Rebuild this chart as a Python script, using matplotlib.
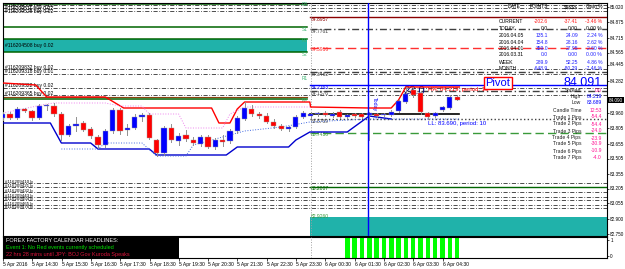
import numpy as np
import matplotlib.pyplot as plt
from matplotlib.patches import Rectangle

plt.rcParams['font.family'] = ['Liberation Sans', 'DejaVu Sans']

# ---------------- data (M15 bars, 5-6 Apr 2016) ----------------
opens = [83.91, 83.95, 83.91, 84.00, 83.98, 83.91, 84.03, 84.03, 83.95, 83.74,
         83.83, 83.86, 83.80, 83.72, 83.64, 83.78, 83.99, 83.79, 83.81, 83.92,
         83.94, 83.69, 83.56, 83.81, 83.68, 83.74, 83.69, 83.65, 83.72, 83.62,
         83.69, 83.68, 83.78, 83.90, 84.00, 83.95, 83.93, 83.87, 83.83, 83.80,
         83.82, 83.92, 83.93, 83.95, 83.96, 83.93, 83.97, 83.92, 83.95, 83.95,
         83.94, 83.95, 83.94, 83.94, 83.98, 84.07, 84.19, 84.16, 83.96, 83.93,
         83.99, 84.01, 84.12]
highs = [83.97, 83.97, 84.02, 84.01, 83.99, 84.05, 84.05, 84.06, 83.97, 83.85,
         83.92, 83.88, 83.82, 83.74, 83.80, 84.01, 84.01, 83.85, 83.95, 83.96,
         83.96, 83.70, 83.83, 83.85, 83.76, 83.79, 83.72, 83.74, 83.74, 83.71,
         83.74, 83.80, 83.93, 84.07, 84.04, 83.97, 83.96, 83.90, 83.85, 83.83,
         83.94, 83.98, 83.97, 83.97, 83.98, 83.97, 83.99, 83.95, 83.96, 83.96,
         83.97, 83.96, 83.96, 83.99, 84.10, 84.22, 84.22, 84.18, 83.97, 83.97,
         84.03, 84.14, 84.13]
lows = [83.89, 83.90, 83.90, 83.97, 83.89, 83.90, 83.99, 83.93, 83.69, 83.73,
        83.78, 83.78, 83.71, 83.61, 83.62, 83.76, 83.75, 83.74, 83.80, 83.88,
        83.70, 83.53, 83.54, 83.67, 83.64, 83.68, 83.64, 83.63, 83.61, 83.60,
        83.63, 83.66, 83.76, 83.89, 83.93, 83.91, 83.86, 83.81, 83.79, 83.78,
        83.81, 83.91, 83.91, 83.93, 83.93, 83.92, 83.91, 83.91, 83.92, 83.91,
        83.69, 83.92, 83.93, 83.93, 83.97, 84.06, 84.12, 83.95, 83.90, 83.92,
        83.98, 84.00, 84.09]
closes = [83.95, 83.91, 84.00, 83.98, 83.91, 84.03, 84.04, 83.95, 83.74, 83.83,
          83.85, 83.79, 83.73, 83.64, 83.78, 83.99, 83.78, 83.81, 83.92, 83.94,
          83.71, 83.56, 83.81, 83.69, 83.73, 83.70, 83.66, 83.72, 83.62, 83.69,
          83.67, 83.78, 83.91, 84.01, 83.95, 83.93, 83.87, 83.83, 83.80, 83.82,
          83.92, 83.96, 83.95, 83.96, 83.94, 83.95, 83.92, 83.94, 83.93, 83.92,
          83.96, 83.93, 83.95, 83.97, 84.08, 84.15, 84.14, 83.97, 83.92, 83.96,
          84.02, 84.12, 84.09]

# upper / lower price channel (step lines) and dotted envelopes, (bar, price)
upper_x = [0, 4.5, 6, 14, 16.5, 28.5, 29.5, 31, 32, 33, 41.9, 42, 50, 53, 54, 55, 62.3]
upper_y = [84.26, 84.24, 84.12, 84.12, 84.01, 84.01, 83.86, 83.86, 84.00, 84.07, 84.07,
           84.02, 84.01, 84.01, 84.09, 84.22, 84.22]
lower_x = [0, 6.5, 8, 12, 13, 20, 21, 30.5, 32, 39, 40, 41.9, 47, 50, 53]
lower_y = [83.86, 83.86, 83.66, 83.66, 83.60, 83.60, 83.54, 83.54, 83.62, 83.62, 83.69,
           83.77, 83.77, 83.93, 83.90]
pink_x = [0, 6, 7, 14, 16, 19, 20, 24, 25, 30, 31, 33, 41.9]
pink_y = [83.96, 84.05, 84.06, 84.06, 84.03, 84.03, 83.95, 83.95, 83.81, 83.81, 83.95,
          84.02, 84.02]
blued_x = [8, 13, 14, 19, 21, 25, 26, 33, 38, 41.9, 47, 50, 62.3]
blued_y = [83.60, 83.60, 83.66, 83.66, 83.53, 83.53, 83.64, 83.78, 83.82, 83.87, 83.89,
           83.90, 83.90]

# order / level lines
left_levels = [85.05, 84.82, 84.57, 84.70, 84.10]
left_dash = [85.04, 85.01, 84.98, 84.40, 84.35, 84.21, 84.14]
order_labels = ['#116209832 buy 0.02', '#116209318 buy 0.01',
                '#116209322 buy 0.02', '#116209365 buy 0.02']
top_labels = ['#116209504 buy 0.02', '#116209511 buy 0.02', '#116209528 buy 0.02']
bottom_levels = [83.26, 83.22, 83.17, 83.12, 83.09, 83.04, 83.01]
bottom_labels = ['#116209410 b', '#116209421 b', '#116209432 b', '#116209443 b',
                 '#116209454 b', '#116209465 b', '#116209476 b']
pivot_names = ['R3', 'S1', 'R2', 'S2', 'R1', 'PP']
pivot_levels = [85.04, 84.79, 84.68, 84.55, 84.30, 84.09]
right_levels = [84.8957, 84.7761, 84.5916, 84.3462, 84.2163, 84.1576,
                83.8769, 83.7436, 83.2007, 82.9260]
right_colors = ['#8b0000', '#404040', '#ff3030', '#404040', '#0000ff', '#404040',
                '#404040', '#3a9a3a', '#006400', '#3a9a3a']

signal = [0] * 47 + [1] * 16

price_ticks = [85.020, 84.875, 84.715, 84.565, 84.445, 84.282, 83.960, 83.805,
               83.655, 83.505, 83.355, 83.205, 83.055, 82.900, 82.750]
time_labels = ['5 Apr 2016', '5 Apr 14:30', '5 Apr 15:30', '5 Apr 16:30', '5 Apr 17:30',
               '5 Apr 18:30', '5 Apr 19:30', '5 Apr 20:30', '5 Apr 21:30', '5 Apr 22:30',
               '5 Apr 23:30', '6 Apr 00:30', '6 Apr 01:30', '6 Apr 02:30', '6 Apr 03:30',
               '6 Apr 04:30']

table_rows = ['CURRENT', 'TODAY', '2016.04.05', '2016.04.04', '2016.04.01',
              '2016.03.31', 'WEEK', 'MONTH']
table_points = ['-202.6', '0.0', '135.1', '154.8', '359.0', '0.0', '289.9', '-648.9']
table_money = ['-37.41', '0.00', '24.09', '28.16', '27.95', '0.00', '52.25', '-80.29']
table_gain = ['-3.46 %', '0.00 %', '2.24 %', '2.62 %', '2.60 %', '0.00 %', '4.86 %', '-7.46 %']

info_names = ['Spread', 'High', 'Low', 'Candle Time', 'Trade 1 Pips', 'Trade 2 Pips',
              'Trade 3 Pips', 'Trade 4 Pips', 'Trade 5 Pips', 'Trade 6 Pips', 'Trade 7 Pips']
info_values = ['0.0', '84.219', '83.689', '12:53', '-54.4', '-54.4', '-24.0', '-23.9',
               '-30.9', '-10.9', '-4.0']

# ---------------- figure ----------------
W, H = 625, 269
fig = plt.figure(figsize=(W / 100, H / 100), dpi=100, facecolor='white')
ax = fig.add_axes([3 / W, (H - 236) / H, 604 / W, 233 / H])
sub = fig.add_axes([3 / W, (H - 258) / H, 604 / W, 21 / H])

XR = 82.44
ax.set_xlim(0.04, XR)
ax.set_ylim(82.73, 85.06)
sub.set_xlim(0.04, XR)
sub.set_ylim(0, 1)
SPLIT = 41.9

def px(x):
    return (x - 2.7) / 7.33

def py(y):
    return 82.75 + (234 - y) / 100

small = dict(fontsize=3.6)
dashdot = (0, (5, 2, 1, 2))

# teal band + frame lines, left part
ax.add_patch(Rectangle((0, left_levels[2]), SPLIT - 0.4, left_levels[3] - left_levels[2],
                       facecolor='#20b2aa', edgecolor='none', zorder=1))
for lv in left_levels:
    ax.plot([0, SPLIT - 0.4], [lv, lv], color='#006400', lw=1.1, zorder=2)
ax.plot([0, SPLIT - 0.4], [84.12, 84.12], color='#8b4513', lw=0.8, zorder=2)
ax.text(px(5), 84.635, '#116204508 buy 0.02', va='center', color='black', **small)
for lv in left_dash:
    ax.plot([0, XR], [lv, lv], color='#303030', lw=0.6, ls=dashdot, zorder=2)
for lv, lab in zip(left_dash[3:], order_labels):
    ax.text(px(5), lv + 0.02, lab, va='center', color='black', **small)
for lv, lab in zip(left_dash[:3], top_labels):
    ax.text(px(5), lv - 0.005, lab, va='center', color='black', **small)
for lv, lab in zip(bottom_levels, bottom_labels):
    ax.plot([0, XR], [lv, lv], color='#303030', lw=0.6, ls=dashdot, zorder=2)
    ax.text(px(5), lv + 0.012, lab, va='center', color='black', fontsize=3.2)
for nm, lv in zip(pivot_names, pivot_levels):
    ax.text(SPLIT - 0.3, lv, nm, ha='right', va='center', color='#3cb371', fontsize=3.4)

# right side levels
ax.add_patch(Rectangle((SPLIT, py(236)), XR - SPLIT, py(217) - py(236),
                       facecolor='#20b2aa', edgecolor='none', zorder=1))
right_styles = ['-', dashdot, (0, (6, 3)), dashdot, '-', dashdot,
                ':', (0, (6, 3)), '-', '-']
for lv, c, ls in zip(right_levels[:-1], right_colors, right_styles):
    ax.plot([SPLIT, XR], [lv + 0.02, lv + 0.02], color=c, lw=1.0, ls=ls, zorder=2)
for lv, c in zip(right_levels, right_colors):
    ax.text(px(311), lv, '%.4f' % lv, va='center', color=c, **small)
ax.plot([SPLIT, 62.3], [83.95, 83.95], color='black', lw=1.2, zorder=3)

# channel lines
ax.plot(upper_x, upper_y, color='#ff0000', lw=1.0, zorder=4)
ax.plot(lower_x, lower_y, color='#0000cd', lw=1.0, zorder=4)
ax.plot(pink_x, pink_y, color='#ee82ee', lw=0.7, ls=':', zorder=4)
ax.plot(blued_x, blued_y, color='#4169e1', lw=0.7, ls=':', zorder=4)

# candles
idx = np.arange(len(opens))
for i, o, h, l, c in zip(idx, opens, highs, lows, closes):
    col = '#0000ff' if c >= o else '#ff0000'
    ax.plot([i, i], [l, h], color='#909090', lw=0.7, zorder=5)
    ax.add_patch(Rectangle((i - 0.35, min(o, c)), 0.7, max(abs(c - o), 0.006),
                           facecolor=col, edgecolor='#a0a0a0', lw=0.3, zorder=6))

# separators
ax.axvline(42, color='#a0a0a0', lw=0.7, ls=':', zorder=3)
sub.axvline(42, color='#a0a0a0', lw=0.7, ls=':', zorder=3)
ax.axvline(49.8, color='#0000ff', lw=1.0, zorder=7)
ax.text(50.3, 84.05, 'Today', rotation=-90, color='#0000ff', fontsize=3.8, va='center')

# annotations
ax.text(px(428), 84.19, 'HH: 84.219, period: 10', color='#ff0000', fontsize=4.3, va='center')
ax.text(px(428), 83.85, 'LL: 83.690, period: 10', color='#0000ff', fontsize=4.3, va='center')
ax.text(px(403), 84.18, '23.0', color='#000080', fontsize=8, va='center')

# table
ys = [7, 22, 29, 36, 42, 49, 55, 62, 69]
hdr = ['DATE', 'POINTS', '$$$$$', 'Gain %']
for t, xx in zip(hdr, [520, 548, 578, 602]):
    ax.text(px(xx), py(ys[0]), t, ha='right', va='center', color='black', **small)
for r, (nm, p1, p2, p3) in enumerate(zip(table_rows, table_points, table_money, table_gain)):
    yy = py(ys[r + 1])
    vc = '#ff2020' if r == 0 else ('black' if r == 1 else '#2020ff')
    ax.text(px(499), yy, nm, ha='left', va='center', color='black', **small)
    ax.text(px(548), yy, p1, ha='right', va='center', color=vc, **small)
    ax.text(px(578), yy, p2, ha='right', va='center', color=vc, **small)
    ax.text(px(602), yy, p3, ha='right', va='center', color=vc, **small)

ax.text(px(498), py(83), 'Pivot', ha='center', va='center', color='#0000ff', fontsize=8,
        bbox=dict(boxstyle='square,pad=0.1', facecolor='white', edgecolor='#ff0000', lw=1))
ax.text(px(602), py(83), '84.091', ha='right', va='center', color='#0000ff', fontsize=9)
info_y = [91, 97, 103, 110, 117, 124, 131, 138, 144, 151, 158]
for k, (nm, v, yy) in enumerate(zip(info_names, info_values, info_y)):
    vc = '#0000ff' if k in (1, 2) else '#ff1493'
    ax.text(px(581), py(yy), nm, ha='right', va='center', color='#202020', **small)
    ax.text(px(602), py(yy), v, ha='right', va='center', color=vc, **small)

# price axis
ax.yaxis.tick_right()
ax.set_yticks(price_ticks)
ax.set_yticklabels(['%.3f' % v for v in price_ticks])
ax.tick_params(axis='y', labelsize=3.3, length=1.5, width=0.5, pad=0.8)
ax.set_xticks([])
ax.text(XR + 0.25, closes[-1], '%.3f' % closes[-1], color='white', fontsize=3.3, va='center',
        bbox=dict(boxstyle='square,pad=0.12', facecolor='black', edgecolor='none'), clip_on=False)

# subwindow
sub.bar(idx, signal, width=0.6, color='#00ff00', zorder=2)
sub.add_patch(Rectangle((0.04, 0), px(179) - 0.04, 1, facecolor='black', zorder=5))
sub.text(px(6), 0.83, 'FOREX FACTORY CALENDAR HEADLINES:', color='white', fontsize=4, va='center', zorder=6)
sub.text(px(6), 0.5, 'Event 1: No Red events currently scheduled', color='#00e000', fontsize=4, va='center', zorder=6)
sub.text(px(6), 0.17, '22 hrs 28 mins until JPY: BOJ Gov Kuroda Speaks', color='#dc143c', fontsize=4, va='center', zorder=6)
sub.yaxis.tick_right()
sub.set_yticks([0.1, 0.85])
sub.set_yticklabels(['0', '1'])
sub.tick_params(axis='y', labelsize=3.3, length=1.5, width=0.5, pad=0.8)
sub.set_xticks(np.arange(0, 61, 4))
sub.set_xticklabels(time_labels, ha='left')
sub.tick_params(axis='x', labelsize=3.6, length=2, width=0.5, pad=1)

for a in (ax, sub):
    for s in a.spines.values():
        s.set_linewidth(0.8)

fig.savefig('out.png', dpi=100)
